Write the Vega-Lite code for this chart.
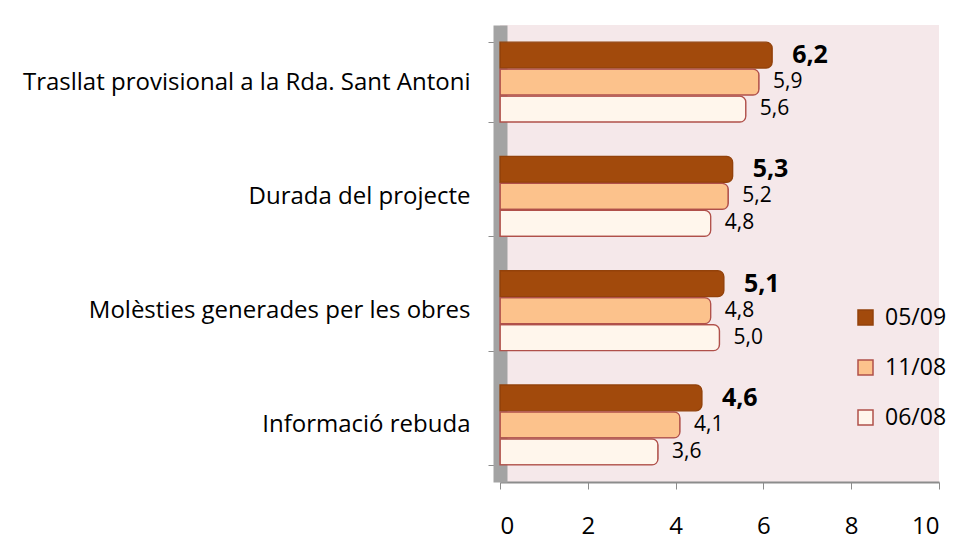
{
  "$schema": "https://vega.github.io/schema/vega-lite/v6.json",
  "width": 439,
  "height": 457,
  "autosize": {"type": "none"},
  "padding": {"left": 500, "top": 25, "right": 14, "bottom": 59},
  "config": {
    "locale": {"number": {"decimal": ",", "thousands": ".", "grouping": [3], "currency": ["", "€"]}},
    "view": {"fill": "#F5E8EA", "stroke": null},
    "font": "Open Sans"
  },
  "data": {
    "values": [
      {"cat": "Trasllat provisional a la Rda. Sant Antoni", "serie": "05/09", "v": 6.2},
      {"cat": "Trasllat provisional a la Rda. Sant Antoni", "serie": "11/08", "v": 5.9},
      {"cat": "Trasllat provisional a la Rda. Sant Antoni", "serie": "06/08", "v": 5.6},
      {"cat": "Durada del projecte", "serie": "05/09", "v": 5.3},
      {"cat": "Durada del projecte", "serie": "11/08", "v": 5.2},
      {"cat": "Durada del projecte", "serie": "06/08", "v": 4.8},
      {"cat": "Molèsties generades per les obres", "serie": "05/09", "v": 5.1},
      {"cat": "Molèsties generades per les obres", "serie": "11/08", "v": 4.8},
      {"cat": "Molèsties generades per les obres", "serie": "06/08", "v": 5.0},
      {"cat": "Informació rebuda ", "serie": "05/09", "v": 4.6},
      {"cat": "Informació rebuda ", "serie": "11/08", "v": 4.1},
      {"cat": "Informació rebuda ", "serie": "06/08", "v": 3.6}
    ]
  },
  "encoding": {
    "y": {
      "field": "cat",
      "type": "nominal",
      "sort": ["Trasllat provisional a la Rda. Sant Antoni", "Durada del projecte", "Molèsties generades per les obres", "Informació rebuda "],
      "scale": {"paddingInner": 0.3, "paddingOuter": 0.15},
      "axis": {
        "title": null,
        "labelFontSize": 24,
        "labelColor": "#000000",
        "labelFont": "Open Sans",
        "tickBand": "extent",
        "tickColor": "#8C8C8C",
        "tickSize": 12,
        "domainColor": "#A3A3A3",
        "domainWidth": 14,
        "labelPadding": 18,
        "labelLimit": 600,
        "zindex": 0
      }
    },
    "yOffset": {
      "field": "serie",
      "sort": ["05/09", "11/08", "06/08"],
      "scale": {"paddingInner": 0.04}
    },
    "x": {
      "field": "v",
      "type": "quantitative",
      "scale": {"domain": [0, 10], "nice": false},
      "axis": {
        "title": null,
        "values": [0, 2, 4, 6, 8, 10],
        "format": "d",
        "labelFontSize": 24,
        "labelColor": "#000000",
        "labelFont": "Open Sans",
        "tickColor": "#8C8C8C",
        "tickSize": 7,
        "domainColor": "#8C8C8C",
        "domainWidth": 2,
        "labelPadding": 25,
        "grid": false
      }
    }
  },
  "layer": [
    {
      "mark": {"type": "bar", "strokeWidth": 1.3, "cornerRadiusEnd": 6},
      "encoding": {
        "color": {
          "field": "serie",
          "type": "nominal",
          "scale": {"domain": ["05/09", "11/08", "06/08"], "range": ["#A24A0C", "#FCC28C", "#FFF6EC"]},
          "legend": {
            "orient": "none",
            "legendX": 354,
            "legendY": 281,
            "title": null,
            "symbolType": "square",
            "symbolSize": 225,
            "symbolStrokeWidth": 1.5,
            "labelFontSize": 23,
            "labelColor": "#000000",
            "labelFont": "Open Sans",
            "rowPadding": 26,
            "labelOffset": 8
          }
        },
        "stroke": {
          "field": "serie",
          "type": "nominal",
          "scale": {"domain": ["05/09", "11/08", "06/08"], "range": ["#93420B", "#B0504A", "#B0504A"]},
          "legend": {
            "orient": "none",
            "legendX": 354,
            "legendY": 281,
            "title": null,
            "symbolType": "square",
            "symbolSize": 225,
            "symbolStrokeWidth": 1.5,
            "labelFontSize": 23,
            "labelColor": "#000000",
            "labelFont": "Open Sans",
            "rowPadding": 26,
            "labelOffset": 8
          }
        }
      }
    },
    {
      "transform": [{"filter": "datum.serie === '05/09'"}],
      "mark": {"type": "text", "align": "left", "baseline": "middle", "dx": 20, "fontSize": 25, "fontWeight": "bold", "color": "#000000", "font": "Open Sans"},
      "encoding": {"text": {"field": "v", "type": "quantitative", "format": ".1f"}}
    },
    {
      "transform": [{"filter": "datum.serie !== '05/09'"}],
      "mark": {"type": "text", "align": "left", "baseline": "middle", "dx": 14, "fontSize": 21, "color": "#000000", "font": "Open Sans"},
      "encoding": {"text": {"field": "v", "type": "quantitative", "format": ".1f"}}
    }
  ]
}
